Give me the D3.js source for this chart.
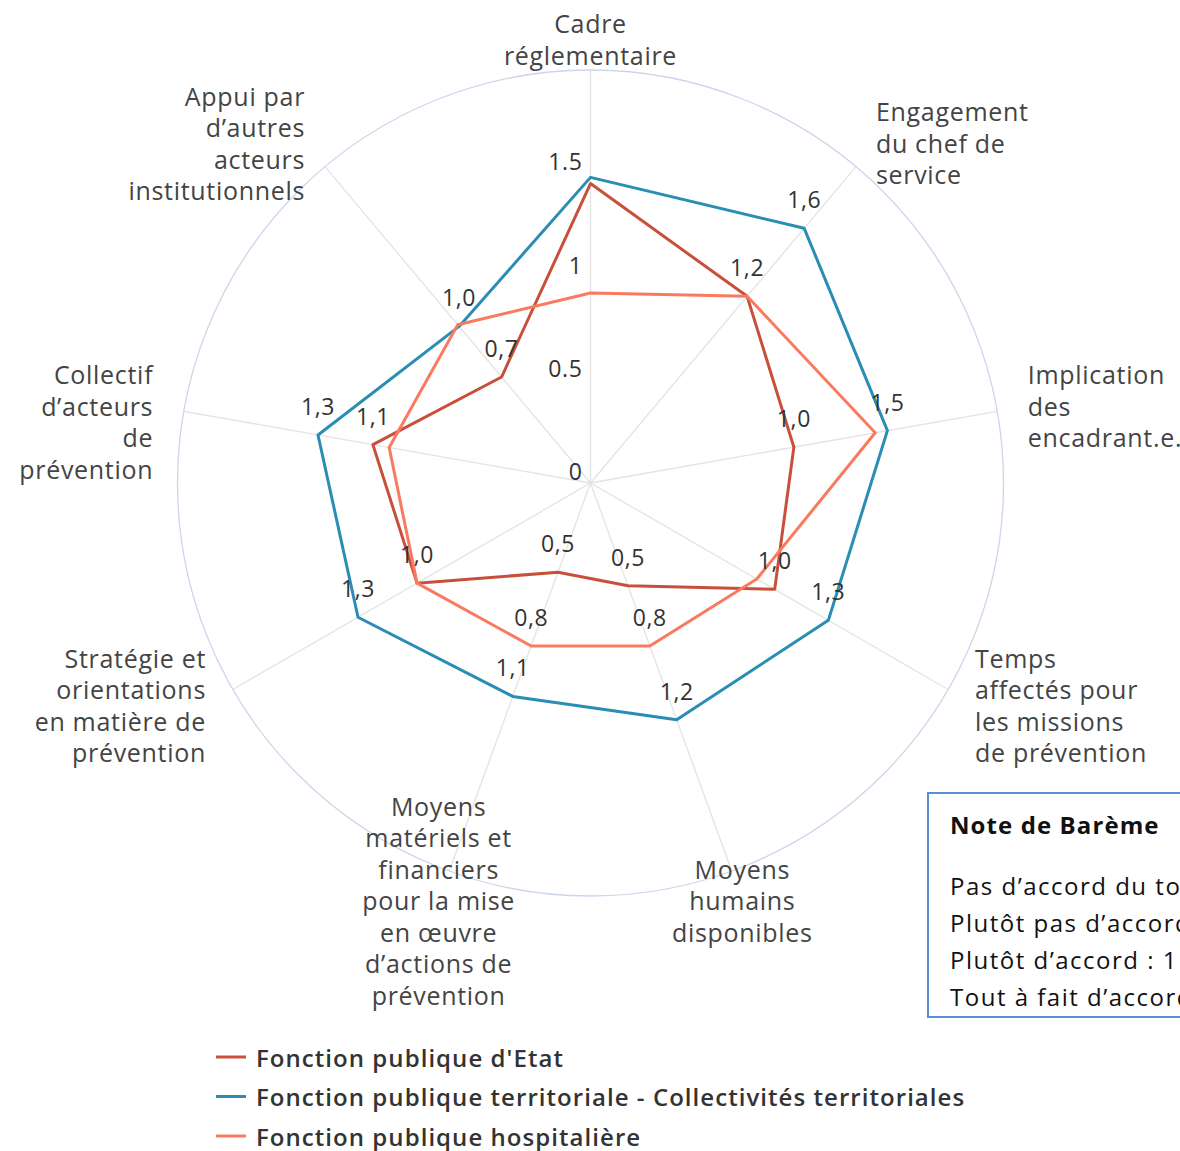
<!DOCTYPE html>
<html>
<head>
<meta charset="utf-8">
<script src="https://cdn.jsdelivr.net/npm/d3@7"></script>
<style>
  body { margin:0; background:#fff; overflow:hidden; }
  svg { display:block; }
</style>
</head>
<body>
<div class="chart_radar"></div>
<script>
// axes, clockwise from the top
var categories = [
  ["Cadre", "réglementaire"],
  ["Engagement", "du chef de", "service"],
  ["Implication", "des", "encadrant.e.s"],
  ["Temps", "affectés pour", "les missions", "de prévention"],
  ["Moyens", "humains", "disponibles"],
  ["Moyens", "matériels et", "financiers", "pour la mise", "en œuvre", "d’actions de", "prévention"],
  ["Stratégie et", "orientations", "en matière de", "prévention"],
  ["Collectif", "d’acteurs", "de", "prévention"],
  ["Appui par", "d’autres", "acteurs", "institutionnels"]
];
var seriesNames = ["Fonction publique d'Etat",
  "Fonction publique territoriale - Collectivités territoriales",
  "Fonction publique hospitalière"];
var etat        = [1.45, 1.18, 1.0, 1.03, 0.53, 0.46, 0.97, 1.07, 0.67];
var territorial = [1.48, 1.61, 1.46, 1.33, 1.22, 1.1, 1.3, 1.34, 0.99];
var hospital    = [0.92, 1.18, 1.4, 0.93, 0.84, 0.84, 0.97, 0.99, 1.0];
var seriesColors = ["#c8503b", "#2a8db4", "#fa7a5f"];
var radialTicks = [0, 0.5, 1, 1.5];
var noteTitle = "Note de Barème";
var noteLines = ["Pas d’accord du tout : -2", "Plutôt pas d’accord : -1",
  "Plutôt d’accord : 1", "Tout à fait d’accord : 2"];

function radarChart(_cls){
  var cls = _cls || '.chart_radar';
  var width = 1180, height = 1151;
  var cx = 590.5, cy = 483, R = 413;
  var font = "'Open Sans', sans-serif";

  var svg = d3.select(cls).append("svg")
    .attr("width", width).attr("height", height);

  var n = categories.length;
  var angle = d3.scaleLinear().domain([0, n]).range([0, 2*Math.PI]);
  var rScale = d3.scaleLinear().domain([0, 2]).range([0, R]);

  var g = svg.append("g").attr("transform", "translate(" + cx + "," + cy + ")");

  function px(i, v){ return Math.sin(angle(i)) * rScale(v); }
  function py(i, v){ return -Math.cos(angle(i)) * rScale(v); }

  // spokes
  g.selectAll(".spoke").data(categories).enter().append("line")
    .attr("class","spoke")
    .attr("x1",0).attr("y1",0)
    .attr("x2",function(d,i){return px(i,2);})
    .attr("y2",function(d,i){return py(i,2);})
    .attr("stroke","#e3e3e3").attr("stroke-width",1.3);

  // outer circle
  g.append("circle").attr("r", rScale(2))
    .attr("fill","none").attr("stroke","#ccd6eb").attr("stroke-width",1.3);

  // radial tick labels
  var placed = [];
  g.selectAll(".rtick").data(radialTicks).enter().append("text")
    .attr("class","rtick")
    .attr("x",-8)
    .attr("y",function(d){return -rScale(d) - 12;})
    .attr("text-anchor","end").attr("dominant-baseline","central")
    .attr("font-family",font).attr("font-size",23).attr("letter-spacing",0.6)
    .attr("fill","#333")
    .text(function(d){return d;})
    .each(function(){ placed.push(this.getBBox()); });

  // axis labels
  var lh = 31.5;
  categories.forEach(function(lines, i){
    var s = Math.sin(angle(i)), c = Math.cos(angle(i));
    var x = px(i, 2) + s*31, y = py(i, 2) - c*31;
    var anchor = s > 0.4 ? "start" : (s < -0.4 ? "end" : "middle");
    var top = Math.abs(c) < 0.3 ? y - lh : y - (lines.length-1)*lh/2;
    var t = g.append("text")
      .attr("text-anchor", anchor)
      .attr("font-family",font).attr("font-size",25).attr("letter-spacing",0.7)
      .attr("fill","#444");
    lines.forEach(function(l, k){
      t.append("tspan").attr("x",x).attr("y",top + k*lh)
        .attr("dominant-baseline","central").text(l);
    });
  });

  var line = d3.lineRadial()
    .angle(function(d,i){return angle(i);})
    .radius(function(d){return rScale(d);})
    .curve(d3.curveLinearClosed);

  var data = [etat, territorial, hospital];

  g.selectAll(".series").data(data).enter().append("path")
    .attr("class","series")
    .attr("d", line)
    .attr("fill","none")
    .attr("stroke",function(d,i){return seriesColors[i];})
    .attr("stroke-width",3)
    .attr("stroke-linejoin","round");

  // data labels, hide those that collide with earlier ones
  var fmt = function(v){ return d3.format(".1f")(v).replace(".", ","); };
  function hit(a, b){
    return !(a.x + a.width < b.x || b.x + b.width < a.x ||
             a.y + a.height < b.y || b.y + b.height < a.y);
  }
  data.forEach(function(vals, si){
    vals.forEach(function(v, i){
      var t = g.append("text")
        .attr("x", px(i, v)).attr("y", py(i, v) - 29)
        .attr("text-anchor","middle").attr("dominant-baseline","central")
        .attr("font-family",font).attr("font-size",23).attr("letter-spacing",0.6)
        .attr("fill","#333")
        .text(fmt(v));
      var b = t.node().getBBox();
      if (placed.some(function(p){return hit(p, b);})) t.remove();
      else placed.push(b);
    });
  });

  // legend
  var legend = svg.append("g").attr("transform","translate(216,1057)");
  var items = legend.selectAll(".item").data(seriesNames).enter().append("g")
    .attr("class","item")
    .attr("transform",function(d,i){return "translate(0," + (i*39.5) + ")";});
  items.append("line").attr("x1",0).attr("x2",30).attr("y1",0).attr("y2",0)
    .attr("stroke",function(d,i){return seriesColors[i];}).attr("stroke-width",3);
  items.append("text").attr("x",40).attr("y",0)
    .attr("dominant-baseline","central")
    .attr("font-family",font).attr("font-weight",600).attr("letter-spacing",1.05)
    .attr("font-size",24).attr("fill","#333")
    .text(function(d){return d;});

  // note box
  var note = svg.append("g").attr("transform","translate(928,793)");
  note.append("rect").attr("width",300).attr("height",224)
    .attr("fill","#fff").attr("stroke","#5b8fd4").attr("stroke-width",2);
  note.append("text").attr("x",22).attr("y",31)
    .attr("dominant-baseline","central")
    .attr("font-family",font).attr("font-weight",700).attr("letter-spacing",1.1)
    .attr("font-size",24).attr("fill","#111").text(noteTitle);
  note.selectAll(".nl").data(noteLines).enter().append("text")
    .attr("class","nl")
    .attr("x",22).attr("y",function(d,i){return 92 + i*37;})
    .attr("dominant-baseline","central")
    .attr("font-family",font).attr("letter-spacing",1.5)
    .attr("font-size",24).attr("fill","#111").text(function(d){return d;});
}
radarChart();
</script>
</body>
</html>
